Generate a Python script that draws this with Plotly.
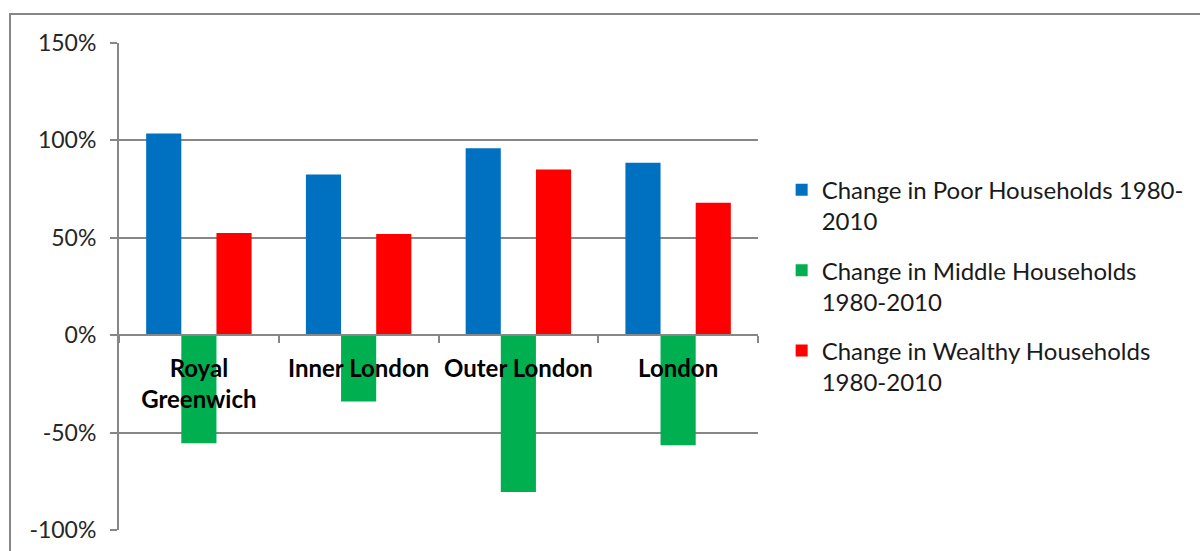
import plotly.graph_objects as go

categories = ["Royal<br>Greenwich", "Inner London", "Outer London", "London"]
series_names = [
    "Change in Poor Households 1980-<br>2010",
    "Change in Middle Households<br>1980-2010",
    "Change in Wealthy Households<br>1980-2010",
]
poor = [1.035, 0.825, 0.96, 0.885]
middle = [-0.555, -0.34, -0.805, -0.565]
wealthy = [0.525, 0.52, 0.85, 0.68]
colors = ["#0070C0", "#00B050", "#FF0000"]
y_ticks = [-1.0, -0.5, 0.0, 0.5, 1.0, 1.5]
y_tick_labels = ["-100%", "-50%", "0%", "50%", "100%", "150%"]

FONT = "Lato"

fig = go.Figure()
for i, (name, vals) in enumerate(zip(series_names, [poor, middle, wealthy])):
    fig.add_trace(go.Bar(
        x=categories, y=vals, name=name, marker_color=colors[i],
        marker_line_width=0, legendgroup=f"g{i}",
    ))

ymin, ymax = -1.0, 1.5
zero_pos = (0 - ymin) / (ymax - ymin)

fig.update_layout(
    width=1200, height=551,
    margin=dict(l=119, r=442, t=43, b=21, autoexpand=False),
    paper_bgcolor="white", plot_bgcolor="white",
    barmode="group", bargap=0.34, bargroupgap=0,
    font=dict(family=FONT, size=20, color="#262626"),
    legend=dict(
        x=1.037, y=0.744, xanchor="left", yanchor="top", valign="top",
        font=dict(family=FONT, size=24, color="#1a1a1a"),
        tracegroupgap=15, traceorder="grouped",
        itemwidth=30,
    ),
    xaxis=dict(
        anchor="free", position=zero_pos, automargin=False,
        showline=True, linecolor="#878787", linewidth=2,
        ticks="outside", tickson="boundaries", ticklen=7, tickcolor="#878787", tickwidth=2,
        tickfont=dict(family=FONT, size=24, color="black", weight="bold"),
        ticklabelstandoff=12,
        showgrid=False, zeroline=False,
    ),
    yaxis=dict(
        range=[ymin, ymax], tickvals=y_ticks, ticktext=y_tick_labels, automargin=False,
        showgrid=True, gridcolor="#878787", gridwidth=2,
        showline=True, linecolor="#878787", linewidth=2,
        ticks="outside", ticklen=7, tickcolor="#878787", tickwidth=2,
        tickfont=dict(family=FONT, size=23, color="#262626"),
        ticklabelstandoff=9,
        zeroline=False,
    ),
    shapes=[dict(
        type="rect", xref="paper", yref="paper",
        x0=(10 - 119) / 639, x1=3.0,
        y0=-1.0, y1=(530 - 14) / 487,
        line=dict(color="#878787", width=2), fillcolor="rgba(0,0,0,0)", layer="below",
    )],
)

fig.write_html("out.html")
